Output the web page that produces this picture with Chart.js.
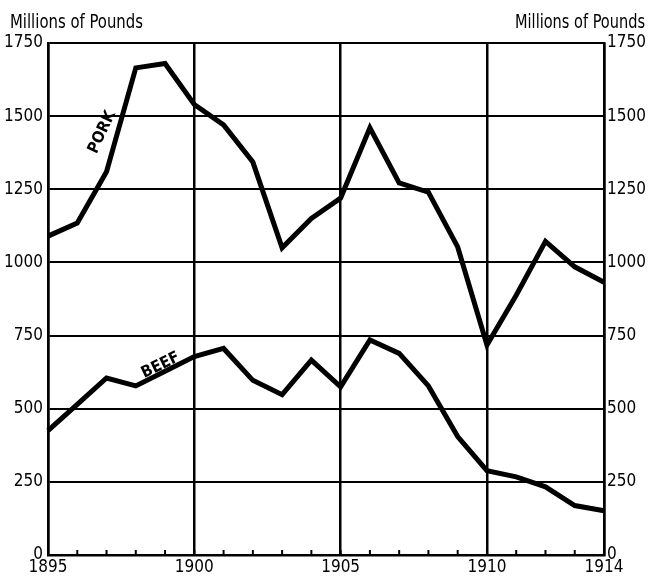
<!DOCTYPE html>
<html>
<head>
<meta charset="utf-8">
<script src="https://cdn.jsdelivr.net/npm/chart.js@4.4.0/dist/chart.umd.min.js"></script>
<style>
  html, body { margin: 0; padding: 0; background: #fff; }
  #wrap { width: 648px; height: 578px; position: relative; }
</style>
</head>
<body>
<div id="wrap"><canvas id="chart"></canvas></div>
<script>
const years = [1895, 1896, 1897, 1898, 1899, 1900, 1901, 1902, 1903, 1904,
               1905, 1906, 1907, 1908, 1909, 1910, 1911, 1912, 1913, 1914]
const pork = [1090, 1135, 1310, 1665, 1680, 1540, 1470, 1343, 1050, 1150,
              1220, 1460, 1272, 1240, 1053, 718, 888, 1072, 985, 932]
const beef = [425, 515, 605, 578, 628, 678, 706, 597, 548, 666,
              575, 735, 689, 578, 405, 288, 267, 233, 169, 151]
const yTicks = [0, 250, 500, 750, 1000, 1250, 1500, 1750]
const xLabels = [1895, 1900, 1905, 1910, 1914]
const xGrid = [1895, 1900, 1905, 1910, 1914]
const seriesLabels = [
    { text: 'PORK', year: 1896.85, value: 1445, angle: -65 },
    { text: 'BEEF', year: 1898.85, value: 648, angle: -26 }
]

const FONT = '"DejaVu Sans Condensed", "DejaVu Sans", sans-serif'

const ctx = document.querySelector('#chart')

const extras = {
    id: 'extras',
    afterDraw(chart) {
        const c = chart.ctx
        const x = chart.scales.x
        const y = chart.scales.y
        const area = chart.chartArea
        c.save()
        // minor year ticks on the baseline
        c.strokeStyle = '#000'
        c.lineWidth = 2
        years.forEach((yr, i) => {
            const px = x.getPixelForValue(i)
            c.beginPath()
            c.moveTo(px, area.bottom)
            c.lineTo(px, area.bottom - 5)
            c.stroke()
        })
        // axis titles
        c.fillStyle = '#000'
        c.font = '19px ' + FONT
        c.textBaseline = 'alphabetic'
        c.textAlign = 'left'
        c.fillText('Millions of Pounds', 10, 28, 133)
        c.textAlign = 'right'
        c.fillText('Millions of Pounds', 645, 28, 130)
        // series labels along the lines
        c.font = 'bold 16px ' + FONT
        c.textAlign = 'center'
        c.textBaseline = 'middle'
        seriesLabels.forEach(l => {
            const px = x.left + (l.year - years[0]) / (years[years.length - 1] - years[0]) * x.width
            const py = y.getPixelForValue(l.value)
            c.save()
            c.translate(px, py)
            c.rotate(l.angle * Math.PI / 180)
            c.fillText(l.text, 0, 0)
            c.restore()
        })
        c.restore()
    }
}

const data = {
    labels: years,
    datasets: [
        {
            label: 'Pork',
            data: pork,
            borderColor: '#000',
            borderWidth: 5,
            pointRadius: 0,
            tension: 0,
            borderJoinStyle: 'miter',
            fill: false
        },
        {
            label: 'Beef',
            data: beef,
            borderColor: '#000',
            borderWidth: 5,
            pointRadius: 0,
            tension: 0,
            borderJoinStyle: 'miter',
            fill: false
        }
    ]
}

const yAxis = (position, width) => ({
    position: position,
    min: 0,
    max: 1750,
    afterBuildTicks: scale => { scale.ticks = yTicks.map(v => ({ value: v })) },
    afterFit: scale => { scale.width = width },
    grid: {
        display: position === 'left',
        color: '#000',
        lineWidth: 2,
        drawTicks: false
    },
    border: { display: true, color: '#000', width: 2.5 },
    ticks: {
        color: '#000',
        padding: position === 'left' ? 5 : 3,
        font: { family: FONT, size: 17 },
        callback: v => String(v)
    }
})

const config = {
    type: 'line',
    data: data,
    options: {
        responsive: true,
        maintainAspectRatio: false,
        animation: false,
        layout: { padding: { top: 43, left: 0, right: 0, bottom: 0 } },
        scales: {
            x: {
                type: 'category',
                offset: false,
                afterFit: scale => { scale.height = 23 },
                grid: {
                    color: c => xGrid.includes(years[c.index]) ? '#000' : 'rgba(0,0,0,0)',
                    lineWidth: 2.5,
                    drawTicks: false
                },
                border: { display: true, color: '#000', width: 2.5 },
                ticks: {
                    color: '#000',
                    autoSkip: false,
                    maxRotation: 0,
                    padding: 2,
                    font: { family: FONT, size: 17 },
                    callback: (v, i) => xLabels.includes(years[i]) ? String(years[i]) : ''
                }
            },
            y: yAxis('left', 48),
            y2: yAxis('right', 44)
        },
        plugins: {
            legend: { display: false },
            tooltip: { enabled: false }
        }
    },
    plugins: [extras]
}

new Chart(ctx, config)
</script>
</body>
</html>
